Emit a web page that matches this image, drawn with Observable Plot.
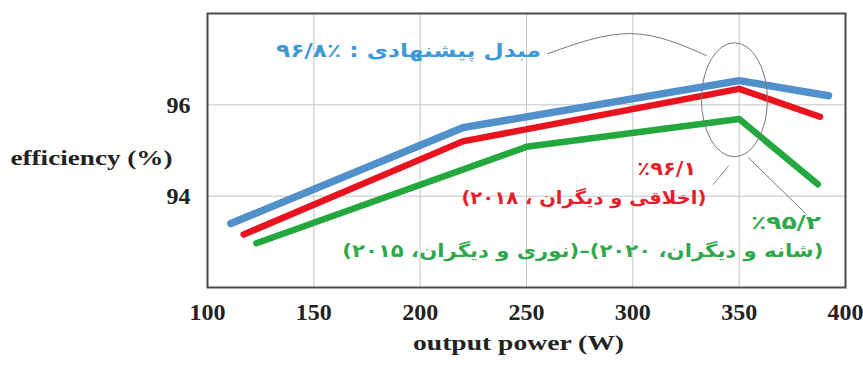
<!DOCTYPE html>
<html><head><meta charset="utf-8">
<script src="https://cdn.jsdelivr.net/npm/d3@7"></script>
<script src="https://cdn.jsdelivr.net/npm/@observablehq/plot@0.6"></script>
<style>body{margin:0;background:#fff}</style>
</head><body><div id="chart"></div>
<script>
// Data
const xTicks = [100, 150, 200, 250, 300, 350, 400];
const yTicks = [94, 96];
const powerBlue = [111, 220, 350, 392];
const effBlue = [93.4, 95.5, 96.53, 96.2];
const powerRed = [117, 220, 350, 388];
const effRed = [93.16, 95.2, 96.35, 95.74];
const powerGreen = [123, 250, 350, 387];
const effGreen = [92.97, 95.08, 95.69, 94.26];

// Annotation texts and anchors (data units)
const labelBlue = "مبدل پیشنهادی : ٪۹۶/۸";
const labelRed1 = "٪۹۶/۱";
const labelRed2 = "(اخلاقی و دیگران ، ۲۰۱۸)";
const labelGreen1 = "٪۹۵/۲";
const labelGreen2 = "(شانه و دیگران، ۲۰۲۰)–(نوری و دیگران، ۲۰۱۵)";
const annX = [194.5, 316, 277, 372, 276.5];
const annY = [97.19, 94.6, 93.96, 93.41, 92.79];
const curveX = [260, 299, 334.6];
const curveY = [97.12, 97.56, 97.08];
const leadRedX = [345, 337.9], leadRedY = [94.66, 94.26];
const leadGreenX = [354.4, 381], leadGreenY = [94.84, 93.63];
const ellipseCenter = [348, 96.1];

const mk = (xs, ys) => xs.map((x, i) => ({x, y: ys[i]}));
const fa = "DejaVu Sans";

const chart = Plot.plot({
  width: 863, height: 365,
  marginLeft: 207, marginRight: 18, marginTop: 13, marginBottom: 78,
  style: {fontFamily: "Liberation Serif", fontSize: "24px", fontWeight: "bold", color: "#222", background: "#fff"},
  x: {domain: [100, 400], ticks: xTicks, tickSize: 0, tickPadding: 15, label: null},
  y: {domain: [92, 98], ticks: yTicks, tickSize: 0, tickPadding: 17, label: null, tickFormat: d => String(d)},
  marks: [
    Plot.gridX(xTicks.slice(1, -1), {stroke: "#c4c4c4", strokeOpacity: 1, strokeWidth: 1}),
    Plot.gridY(yTicks, {stroke: "#c4c4c4", strokeOpacity: 1, strokeWidth: 1}),
    Plot.frame({stroke: "#4a4a4a", strokeWidth: 2}),
    Plot.line(mk(powerGreen, effGreen), {x: "x", y: "y", stroke: "#22a83c", strokeWidth: 6.5}),
    Plot.line(mk(powerRed, effRed), {x: "x", y: "y", stroke: "#e8131f", strokeWidth: 6.5}),
    Plot.line(mk(powerBlue, effBlue), {x: "x", y: "y", stroke: "#5290cc", strokeWidth: 7.5}),
    Plot.line(mk(curveX, curveY), {x: "x", y: "y", stroke: "#777", strokeWidth: 1, curve: "natural"}),
    Plot.line(mk(leadRedX, leadRedY), {x: "x", y: "y", stroke: "#888", strokeWidth: 1}),
    Plot.line(mk(leadGreenX, leadGreenY), {x: "x", y: "y", stroke: "#777", strokeWidth: 1}),
    Plot.text([labelBlue], {x: annX[0], y: annY[0], text: d => d, fill: "#3c9ad6", fontFamily: fa, fontSize: 19}),
    Plot.text([labelRed1], {x: annX[1], y: annY[1], text: d => d, fill: "#e51d2c", fontFamily: fa, fontSize: 19}),
    Plot.text([labelRed2], {x: annX[2], y: annY[2], text: d => d, fill: "#e51d2c", fontFamily: fa, fontSize: 18}),
    Plot.text([labelGreen1], {x: annX[3], y: annY[3], text: d => d, fill: "#2fa84a", fontFamily: fa, fontSize: 19}),
    Plot.text([labelGreen2], {x: annX[4], y: annY[4], text: d => d, fill: "#2fa84a", fontFamily: fa, fontSize: 18}),
    Plot.text(["efficiency (%)"], {frameAnchor: "left", textAnchor: "start", dx: -197, dy: 7, text: d => d, fontSize: 22}),
    Plot.text(["output power (W)"], {frameAnchor: "bottom", dx: -8, dy: 62, text: d => d, fontSize: 22})
  ]
});

// ellipse highlight around the 350 W peak
const sx = chart.scale("x"), sy = chart.scale("y");
d3.select(chart).append("ellipse")
  .attr("cx", sx.apply(ellipseCenter[0]))
  .attr("cy", sy.apply(ellipseCenter[1]))
  .attr("rx", 33).attr("ry", 57)
  .attr("fill", "none").attr("stroke", "#777").attr("stroke-width", 1);

// widths of the (horizontally stretched) reference lettering
const stretch = new Map([
  [labelBlue, 265], [labelRed1, 59], [labelRed2, 245], [labelGreen1, 70], [labelGreen2, 481],
  ["efficiency (%)", 162], ["output power (W)", 211]
]);
d3.select(chart).selectAll("text").each(function() {
  const t = this.textContent;
  if (/[\u0600-\u06FF]/.test(t)) {
    this.setAttribute("direction", "rtl");
    this.style.direction = "rtl";
  }
  if (stretch.has(t)) {
    this.setAttribute("textLength", stretch.get(t));
    this.setAttribute("lengthAdjust", "spacingAndGlyphs");
  }
});
document.getElementById("chart").append(chart);
</script>
</body></html>
